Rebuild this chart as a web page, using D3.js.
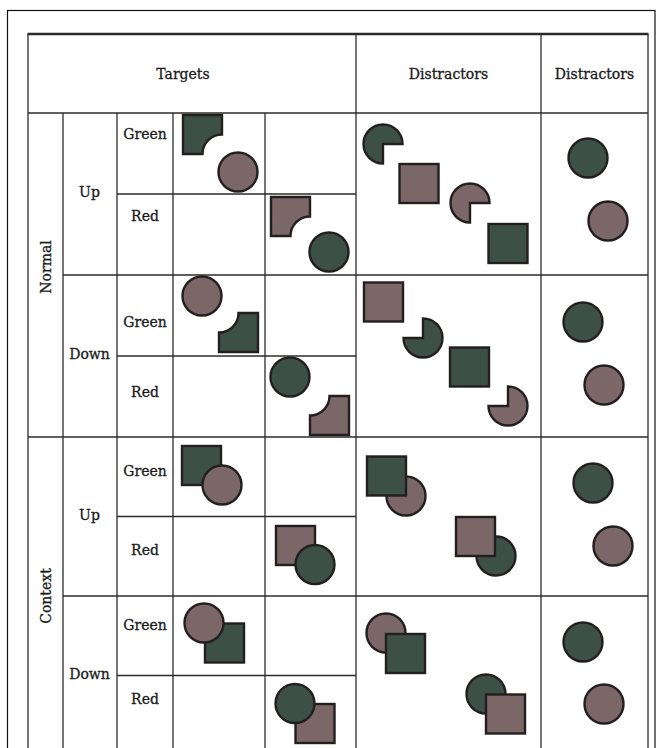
<!DOCTYPE html>
<html><head><meta charset="utf-8">
<script src="https://cdn.jsdelivr.net/npm/d3@7/dist/d3.min.js"></script>
<style>html,body{margin:0;padding:0;background:#fff;}</style>
</head><body>
<svg id="chart" width="656" height="748"></svg>
<script>
// ---------- data ----------
const headers = ["Targets", "Distractors", "Distractors"];
const groups = ["Normal", "Context"];
const directions = ["Up", "Down"];
const colours = ["Green", "Red"];

// target stimuli per (group, direction, colour) row: column (0/1) + shapes in cell-local units
const targetCol = [0, 1, 0, 1, 0, 1, 0, 1];
const targetShapes = [
  [{k:"notch", c:"g", x:29.5, y:21.5, corner:"br"}, {k:"circle", c:"m", x:65, y:59}],
  [{k:"notch", c:"m", x:25.5, y:22.5, corner:"br"}, {k:"circle", c:"g", x:64, y:58}],
  [{k:"circle", c:"m", x:29, y:21}, {k:"notch", c:"g", x:65.5, y:57.5, corner:"tl"}],
  [{k:"circle", c:"g", x:25, y:21}, {k:"notch", c:"m", x:64.5, y:59.5, corner:"tl"}],
  [{k:"square", c:"g", x:28.5, y:28.5}, {k:"circle", c:"m", x:49, y:48}],
  [{k:"square", c:"m", x:30.5, y:29}, {k:"circle", c:"g", x:50, y:48}],
  [{k:"square", c:"g", x:51.5, y:47}, {k:"circle", c:"m", x:31, y:27}],
  [{k:"square", c:"m", x:50, y:48}, {k:"circle", c:"g", x:30, y:28}]
];
// distractor stimuli per (group, direction)
const distractorShapes = [
  [{k:"pac", c:"g", x:27, y:31, miss:"br"}, {k:"square", c:"m", x:63, y:70.5},
   {k:"pac", c:"m", x:114, y:90, miss:"br"}, {k:"square", c:"g", x:152, y:130.5}],
  [{k:"square", c:"m", x:27.5, y:27}, {k:"pac", c:"g", x:67, y:63, miss:"tl"},
   {k:"square", c:"g", x:113.5, y:92}, {k:"pac", c:"m", x:152, y:131, miss:"tl"}],
  [{k:"circle", c:"m", x:50, y:59}, {k:"square", c:"g", x:30.5, y:39},
   {k:"circle", c:"g", x:140, y:119}, {k:"square", c:"m", x:119.5, y:99.5}],
  [{k:"circle", c:"m", x:30, y:37}, {k:"square", c:"g", x:49.5, y:57.5},
   {k:"circle", c:"g", x:130, y:98}, {k:"square", c:"m", x:149.5, y:118}]
];
// second distractor column: separate circles
const circleShapes = [
  [{k:"circle", c:"g", x:47, y:45}, {k:"circle", c:"m", x:67, y:108}],
  [{k:"circle", c:"g", x:42, y:47}, {k:"circle", c:"m", x:63, y:110}],
  [{k:"circle", c:"g", x:52, y:46}, {k:"circle", c:"m", x:72, y:109}],
  [{k:"circle", c:"g", x:42, y:46}, {k:"circle", c:"m", x:63, y:108}]
];

// ---------- layout ----------
const colEdges = [28, 63, 117, 173, 265, 356, 541, 648];
const tableTop = 34, headerBottom = 113;
const yRow = d3.scaleLinear().domain([0, 4, 8]).range([113, 437, 755]);
const labelDy = [21, 22, 47, 36, 34, 33, 29, 23];
const R = 19.5, H = 19.5;
const fills = {g: "#3c5047", m: "#7b6767"};
const strokeCol = "#231f20";
const lineCol = "#2b2b2b";
const font = "'DejaVu Serif', serif";

const svg = d3.select("#chart");

// outer frame
svg.append("rect").attr("x", 7.5).attr("y", 10.5).attr("width", 647.5).attr("height", 760)
  .attr("fill", "none").attr("stroke", "#111").attr("stroke-width", 1.2);

// ---------- shapes ----------
const arcGen = d3.arc().innerRadius(0).outerRadius(R);
function notchPath(cx, cy, corner) {
  const p = d3.path();
  const x0 = cx - H, y0 = cy - H, x1 = cx + H, y1 = cy + H, r = R;
  if (corner === "br") {
    p.moveTo(x0, y0); p.lineTo(x1, y0); p.lineTo(x1, y1 - r);
    p.arc(x1, y1, r, -Math.PI / 2, -Math.PI, true);
    p.lineTo(x0, y1); p.closePath();
  } else {
    p.moveTo(x0 + r, y0); p.lineTo(x1, y0); p.lineTo(x1, y1); p.lineTo(x0, y1);
    p.lineTo(x0, y0 + r);
    p.arc(x0, y0, r, Math.PI / 2, 0, true);
    p.closePath();
  }
  return p.toString();
}
function drawShapes(shapes, x0, y0, w, h) {
  const sx = d3.scaleLinear().domain([0, w]).range([x0, x0 + w]);
  const sy = d3.scaleLinear().domain([0, h]).range([y0, y0 + h]);
  const g = svg.append("g");
  shapes.forEach(s => {
    const cx = sx(s.x), cy = sy(s.y);
    let el;
    if (s.k === "circle") {
      el = g.append("circle").attr("cx", cx).attr("cy", cy).attr("r", R);
    } else if (s.k === "square") {
      el = g.append("rect").attr("x", cx - H).attr("y", cy - H).attr("width", 2 * H).attr("height", 2 * H);
    } else if (s.k === "notch") {
      el = g.append("path").attr("d", notchPath(cx, cy, s.corner));
    } else if (s.k === "pac") {
      const a = s.miss === "br" ? [Math.PI, 2.5 * Math.PI] : [0, 1.5 * Math.PI];
      el = g.append("path").attr("transform", `translate(${cx},${cy})`)
        .attr("d", arcGen({startAngle: a[0], endAngle: a[1]}));
    }
    el.attr("fill", fills[s.c]).attr("stroke", strokeCol).attr("stroke-width", 2.4)
      .attr("stroke-linejoin", "miter");
  });
}

targetShapes.forEach((shapes, i) => {
  const c = 3 + targetCol[i];
  drawShapes(shapes, colEdges[c], yRow(i), colEdges[c + 1] - colEdges[c], yRow(i + 1) - yRow(i));
});
distractorShapes.forEach((shapes, i) => {
  drawShapes(shapes, colEdges[5], yRow(2 * i), colEdges[6] - colEdges[5], yRow(2 * i + 2) - yRow(2 * i));
});
circleShapes.forEach((shapes, i) => {
  drawShapes(shapes, colEdges[6], yRow(2 * i), colEdges[7] - colEdges[6], yRow(2 * i + 2) - yRow(2 * i));
});

// ---------- grid lines ----------
const L = svg.append("g").attr("stroke", lineCol).attr("stroke-width", 1.3).attr("fill", "none");
function hl(x1, x2, y, w) { L.append("line").attr("x1", x1).attr("x2", x2).attr("y1", y).attr("y2", y).attr("stroke-width", w || 1.3); }
function vl(x, y1, y2) { L.append("line").attr("x1", x).attr("x2", x).attr("y1", y1).attr("y2", y2); }
const yEnd = 770;
hl(colEdges[0] - 0.5, colEdges[7] + 0.5, tableTop, 2.6);
hl(colEdges[0], colEdges[7], headerBottom);
[0, 5, 6, 7].forEach(c => vl(colEdges[c], tableTop, yEnd));
[1, 2, 3, 4].forEach(c => vl(colEdges[c], headerBottom, yEnd));
d3.range(1, 8).forEach(i => {
  if (i === 4) hl(colEdges[0], colEdges[7], yRow(i));
  else if (i % 2 === 0) hl(colEdges[1], colEdges[7], yRow(i));
  else hl(colEdges[2], colEdges[5], yRow(i));
});

// ---------- text ----------
const T = svg.append("g").attr("font-family", font).attr("font-weight", "normal")
  .attr("font-size", 14).attr("fill", "#1a1a1a").attr("stroke", "#1a1a1a").attr("stroke-width", 0.3)
  .attr("text-anchor", "middle").attr("dominant-baseline", "central");
const headerX = [183, (colEdges[5] + colEdges[6]) / 2, (colEdges[6] + colEdges[7]) / 2];
headers.forEach((h, i) => T.append("text").attr("x", headerX[i]).attr("y", (tableTop + headerBottom) / 2).text(h));
groups.forEach((gname, gi) => {
  const cy = (yRow(4 * gi) + yRow(4 * gi + 4)) / 2 - (gi === 0 ? 8 : 0);
  T.append("text").attr("transform", `translate(${(colEdges[0] + colEdges[1]) / 2 + 0.5},${cy}) rotate(-90)`).text(gname);
  directions.forEach((d, di) => {
    const k = gi * 2 + di;
    T.append("text").attr("x", (colEdges[1] + colEdges[2]) / 2 - 0.5)
      .attr("y", (yRow(2 * k) + yRow(2 * k + 2)) / 2 - 2).text(d);
    colours.forEach((c, ci) => {
      const r = k * 2 + ci;
      T.append("text").attr("x", (colEdges[2] + colEdges[3]) / 2)
        .attr("y", yRow(r) + labelDy[r]).text(c);
    });
  });
});
</script>
</body></html>
